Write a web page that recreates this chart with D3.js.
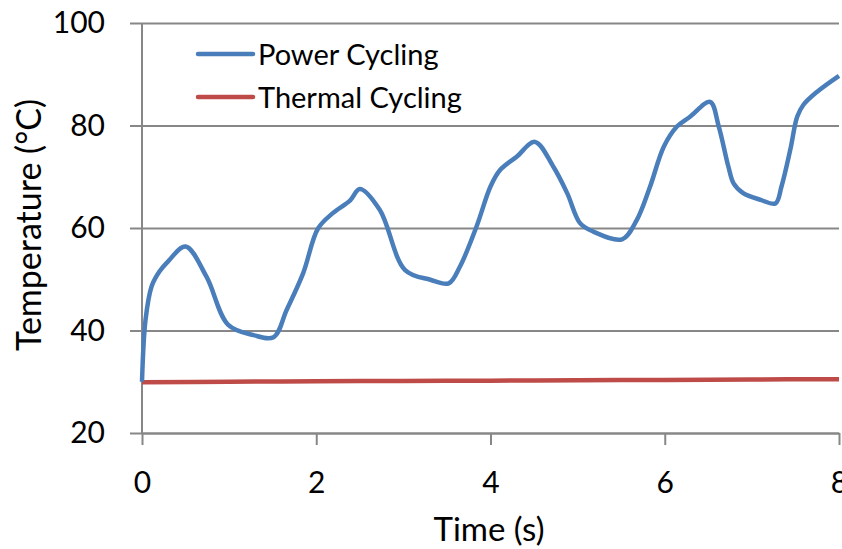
<!DOCTYPE html>
<html lang="en">
<head>
    <meta charset="UTF-8">
    <title>Temperature vs Time</title>
    <script src="https://d3js.org/d3.v7.min.js"></script>
    <style>
        body { margin: 0; background: #fff; }
        text { font-family: Lato, "Open Sans", sans-serif; fill: #000; }
    </style>
</head>
<body>
    <svg id="chart"></svg>
    <script>
        // Data
        var powerTime = [0, 0.04, 0.11, 0.2, 0.3, 0.5, 0.74, 0.99, 1.28, 1.51, 1.66, 1.85, 2.02, 2.19, 2.39, 2.5,
            2.73, 3.02, 3.31, 3.52, 3.65, 3.84, 4.0, 4.11, 4.3, 4.51, 4.72, 4.88, 5.03, 5.18, 5.51,
            5.68, 5.83, 5.99, 6.14, 6.29, 6.52, 6.62, 6.73, 6.79, 6.9, 7.1, 7.27, 7.34, 7.44, 7.52, 7.59, 7.75, 8.0];
        var powerTemp = [30, 42, 48.6, 51.5, 53.5, 56.4, 50.5, 41.1, 39.1, 38.7, 44, 51.2, 59.9, 62.9, 65.4, 67.6,
            63.5, 51.8, 49.9, 49.2, 52.5, 60.3, 68.1, 71.3, 73.9, 76.8, 72, 66.8, 60.9, 59.3, 57.8,
            61.6, 68, 75.9, 79.8, 81.7, 84.6, 79.8, 72, 68.7, 66.8, 65.5, 64.8, 68.1, 75.2, 81.7, 84, 86.6, 89.7];
        var thermalTime = [0, 1, 2, 3, 4, 5, 6, 7, 8];
        var thermalTemp = [29.9, 30.0, 30.1, 30.15, 30.2, 30.3, 30.35, 30.45, 30.5];
        var xTicks = [0, 2, 4, 6, 8];
        var yTicks = [20, 40, 60, 80, 100];
        var seriesNames = ['Power Cycling', 'Thermal Cycling'];
        var seriesColors = ['#4A7EBB', '#BE4B48'];

        var width = 842, height = 549;
        var margin = { top: 23, right: 3, bottom: 116, left: 142 };

        var svg = d3.select('#chart')
            .attr('width', width)
            .attr('height', height);

        var x = d3.scaleLinear().domain([0, 8]).range([margin.left, width - margin.right]);
        var y = d3.scaleLinear().domain([20, 100]).range([height - margin.bottom, margin.top]);

        // horizontal gridlines + y ticks
        svg.append('g')
            .attr('transform', 'translate(' + margin.left + ',0)')
            .call(d3.axisLeft(y).tickValues(yTicks).tickSize(12).tickPadding(25))
            .call(g => g.select('.domain').remove())
            .call(g => g.selectAll('.tick line').clone()
                .attr('x1', 0).attr('x2', width - margin.right - margin.left))
            .call(g => g.selectAll('.tick line').attr('stroke', '#878787').attr('stroke-width', 2))
            .call(g => g.selectAll('.tick text').style('font-size', '30px'));

        // x axis
        svg.append('g')
            .attr('transform', 'translate(0,' + y(20) + ')')
            .call(d3.axisBottom(x).tickValues(xTicks).tickSize(12).tickSizeOuter(0))
            .call(g => g.select('.domain').attr('stroke', '#878787').attr('stroke-width', 2))
            .call(g => g.selectAll('.tick line').attr('stroke', '#878787').attr('stroke-width', 2))
            .call(g => g.selectAll('.tick text')
                .attr('y', 60).attr('dy', null)
                .style('font-size', '30px'));

        // y axis line
        svg.append('line')
            .attr('x1', x(0)).attr('x2', x(0))
            .attr('y1', y(20)).attr('y2', y(100))
            .attr('stroke', '#878787').attr('stroke-width', 2);

        var line = d3.line()
            .x(d => x(d[0]))
            .y(d => y(d[1]))
            .curve(d3.curveCatmullRom.alpha(0.5));

        svg.append('path')
            .datum(thermalTime.map((t, i) => [t, thermalTemp[i]]))
            .attr('d', line)
            .attr('fill', 'none')
            .attr('stroke', seriesColors[1])
            .attr('stroke-width', 4.5);

        svg.append('path')
            .datum(powerTime.map((t, i) => [t, powerTemp[i]]))
            .attr('d', line)
            .attr('fill', 'none')
            .attr('stroke', seriesColors[0])
            .attr('stroke-width', 4.5)
            .attr('stroke-linejoin', 'round');

        // legend
        var legend = svg.selectAll('.legend')
            .data(seriesNames)
            .enter()
            .append('g')
            .attr('class', 'legend')
            .attr('transform', (d, i) => 'translate(198,' + (54 + i * 43) + ')');

        legend.append('line')
            .attr('x1', 0).attr('x2', 55)
            .attr('stroke', (d, i) => seriesColors[i])
            .attr('stroke-width', 4.5)
            .attr('stroke-linecap', 'round');

        legend.append('text')
            .attr('x', 60)
            .attr('y', 11)
            .style('font-size', '29px')
            .text(d => d);

        // axis titles
        svg.append('text')
            .attr('x', 489)
            .attr('y', 541)
            .attr('text-anchor', 'middle')
            .style('font-size', '33px')
            .text('Time (s)');

        svg.append('text')
            .attr('transform', 'rotate(-90)')
            .attr('x', -225)
            .attr('y', 41)
            .attr('text-anchor', 'middle')
            .style('font-size', '34px')
            .text('Temperature (°C)');
    </script>
</body>
</html>
